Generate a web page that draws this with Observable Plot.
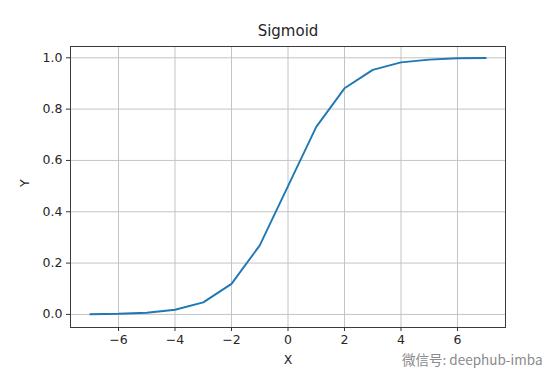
<!DOCTYPE html>
<html>
<head>
<meta charset="utf-8">
<script src="https://cdn.jsdelivr.net/npm/d3@7"></script>
<script src="https://cdn.jsdelivr.net/npm/@observablehq/plot@0.6"></script>
<style>
  html, body { margin: 0; padding: 0; background: #fff; }
  #chart svg { display: block; }
</style>
</head>
<body>
<div id="chart"></div>
<script>
const xValues = [-7, -6, -5, -4, -3, -2, -1, 0, 1, 2, 3, 4, 5, 6, 7];
const yValues = [0.0009, 0.0025, 0.0067, 0.018, 0.047, 0.119, 0.269, 0.5, 0.731, 0.881, 0.953, 0.982, 0.993, 0.998, 0.999];
const xTicks = [-6, -4, -2, 0, 2, 4, 6];
const xTickLabels = ["\u22126", "\u22124", "\u22122", "0", "2", "4", "6"];
const yTicks = [0, 0.2, 0.4, 0.6, 0.8, 1.0];
const yTickLabels = ["0.0", "0.2", "0.4", "0.6", "0.8", "1.0"];
const titleText = "Sigmoid";
const xLabel = "X";
const yLabel = "Y";
const watermark = "微信号: deephub-imba";

const data = xValues.map((x, i) => ({x, y: yValues[i]}));

const chart = Plot.plot({
  width: 560,
  height: 373,
  marginLeft: 70,
  marginRight: 55,
  marginTop: 46,
  marginBottom: 46,
  style: {fontFamily: "DejaVu Sans, sans-serif", fontSize: "12.5px", color: "#262626", background: "#fff"},
  x: {domain: [-7.7, 7.7]},
  y: {domain: [-0.051, 1.044]},
  marks: [
    Plot.gridX(xTicks, {stroke: "#c4c4c4", strokeOpacity: 1, strokeWidth: 1}),
    Plot.gridY(yTicks, {stroke: "#c4c4c4", strokeOpacity: 1, strokeWidth: 1}),
    Plot.axisX(xTicks, {tickSize: 4, tickPadding: 4, stroke: "#333", fill: "#262626", fontSize: 12.5, tickFormat: (d) => xTickLabels[xTicks.indexOf(d)], label: null}),
    Plot.axisY(yTicks, {tickSize: 4, tickPadding: 4, stroke: "#333", fill: "#262626", fontSize: 12.5, tickFormat: (d) => yTickLabels[yTicks.indexOf(d)], label: null}),
    Plot.line(data, {x: "x", y: "y", stroke: "#1f77b4", strokeWidth: 1.9}),
    Plot.frame({stroke: "#3a3a3a", strokeWidth: 1}),
    Plot.text([titleText], {frameAnchor: "top", lineAnchor: "middle", dy: -15, fontSize: 15, fill: "#262626"}),
    Plot.text([xLabel], {frameAnchor: "bottom", lineAnchor: "middle", dy: 32, fontSize: 12.5, fill: "#262626"}),
    Plot.text([yLabel], {frameAnchor: "left", dx: -46, rotate: -90, fontSize: 12.5, fill: "#262626"}),
    Plot.text([watermark], {frameAnchor: "bottom-right", lineAnchor: "middle", dx: 37, dy: 33, textAnchor: "end", fontSize: 13.5, fill: "#8a8a8a", stroke: "#fff", strokeWidth: 2, fontFamily: "Noto Sans CJK SC, DejaVu Sans, sans-serif"})
  ]
});
document.getElementById("chart").appendChild(chart);
</script>
</body>
</html>
